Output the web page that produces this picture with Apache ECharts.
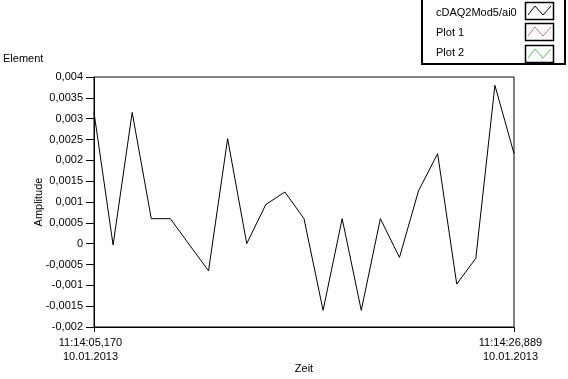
<!DOCTYPE html>
<html>
<head>
<meta charset="utf-8">
<script src="https://cdn.jsdelivr.net/npm/echarts@6/dist/echarts.min.js"></script>
<style>
html,body{margin:0;padding:0;background:#fff;}
#chart{width:568px;height:379px;}
</style>
</head>
<body>
<div id="chart"></div>
<script>
// sample index (approx. 0.987 s per step) and amplitudes
var sampleIndex = [0,1,2,3,4,5,6,7,8,9,10,11,12,13,14,15,16,17,18,19,20,21,22];
var amplitude = [0.00315,-0.00003,0.00315,0.0006,0.0006,-0.00003,-0.00065,0.00252,0.0,0.00094,0.00124,0.0006,-0.0016,0.0006,-0.0016,0.0006,-0.00033,0.00127,0.00216,-0.00097,-0.00035,0.0038,0.00216];
var xTickLabels = ['11:14:05,170\n10.01.2013', '11:14:26,889\n10.01.2013'];
var legendNames = ['cDAQ2Mod5/ai0', 'Plot 1', 'Plot 2'];
var legendColors = ['#000000', '#d07070', '#50c850'];

var FONT = 'Liberation Sans';
var chart = echarts.init(document.getElementById('chart'), null, {renderer:'canvas'});

var seriesData = sampleIndex.map(function(x, i){ return [x, amplitude[i]]; });

var graphics = [];
// legend frame
graphics.push({type:'rect', shape:{x:422, y:-2, width:143, height:66}, style:{fill:'#fff', stroke:'#000', lineWidth:2}, z:10});
var rowY = [13, 33, 53];
var boxY = [11, 32, 54];
legendNames.forEach(function(name, i){
  var cy = rowY[i];
  var by = boxY[i];
  graphics.push({type:'text', x:436, y:cy, style:{text:name, font:'11px "'+FONT+'"', fill:'#000', verticalAlign:'middle'}, z:11});
  graphics.push({type:'rect', shape:{x:525.5, y:by-8.5, width:28, height:17}, style:{fill:'#fff', stroke:'#000', lineWidth:1.5}, z:11});
  graphics.push({type:'polyline', shape:{points:[[528,by+4],[535,by-5],[543,by+4],[551,by-5]]}, style:{stroke:legendColors[i], lineWidth:1, fill:null}, z:12});
});
// "Element" caption
graphics.push({type:'text', x:3, y:59, style:{text:'Element', font:'11px "'+FONT+'"', fill:'#000', verticalAlign:'middle'}, z:10});

chart.setOption({
  animation:false,
  backgroundColor:'#fff',
  textStyle:{fontFamily:FONT, fontSize:11, color:'#000'},
  grid:{left:94, right:54, top:77, bottom:52, show:true, borderColor:'#000', borderWidth:1, backgroundColor:'transparent'},
  xAxis:{
    type:'value', min:0, max:22, interval:22,
    name:'Zeit', nameLocation:'middle', nameGap:36, nameMoveOverlap:false,
    nameTextStyle:{fontFamily:FONT, fontSize:11, color:'#000'},
    axisLine:{show:true, onZero:false, lineStyle:{color:'#000', width:1}},
    axisTick:{show:true, length:5, lineStyle:{color:'#000'}},
    splitLine:{show:false},
    axisLabel:{
      showMinLabel:true, showMaxLabel:true, margin:9, lineHeight:14,
      fontFamily:FONT, fontSize:11, color:'#000', padding:[0,7,0,0],
      formatter:function(v){ return v === 0 ? xTickLabels[0] : xTickLabels[1]; }
    }
  },
  yAxis:{
    type:'value', min:-0.002, max:0.004, interval:0.0005,
    name:'Amplitude', nameLocation:'middle', nameRotate:90, nameGap:50, nameMoveOverlap:false,
    nameTextStyle:{fontFamily:FONT, fontSize:11, color:'#000'},
    axisLine:{show:true, onZero:false, lineStyle:{color:'#000', width:1}},
    axisTick:{show:true, length:8, lineStyle:{color:'#000'}},
    splitLine:{show:false},
    axisLabel:{
      margin:11, fontFamily:FONT, fontSize:11, color:'#000',
      formatter:function(v){ return String(Number(v.toFixed(5))).replace('.', ','); }
    }
  },
  series:[{
    name:legendNames[0], type:'line', data:seriesData, symbol:'none',
    lineStyle:{color:'#000', width:1}, itemStyle:{color:'#000'}
  }],
  graphic:graphics
});
</script>
</body>
</html>
